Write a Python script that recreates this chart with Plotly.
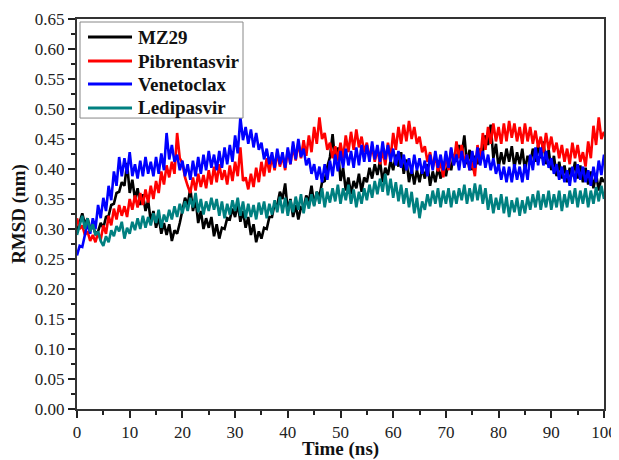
import numpy as np
import plotly.graph_objects as go

# Time axis (ns), sampled every 0.5 ns
time_ns = np.arange(0, 100.5, 0.5)

series_names = ["MZ29", "Pibrentasvir", "Venetoclax", "Ledipasvir"]

mz29 = [
    0.296, 0.312, 0.326, 0.308, 0.318, 0.300, 0.306, 0.292, 0.296, 0.310,
    0.302, 0.320, 0.322, 0.340, 0.342, 0.360, 0.362, 0.378, 0.372, 0.410,
    0.360, 0.382, 0.350, 0.368, 0.340, 0.358, 0.330, 0.348, 0.312, 0.330,
    0.302, 0.320, 0.292, 0.310, 0.290, 0.308, 0.280, 0.298, 0.292, 0.310,
    0.330, 0.352, 0.340, 0.368, 0.330, 0.350, 0.310, 0.330, 0.300, 0.318,
    0.302, 0.320, 0.288, 0.308, 0.284, 0.302, 0.300, 0.318, 0.316, 0.334,
    0.320, 0.342, 0.312, 0.330, 0.302, 0.320, 0.290, 0.308, 0.278, 0.296,
    0.284, 0.302, 0.300, 0.320, 0.320, 0.342, 0.340, 0.362, 0.350, 0.376,
    0.330, 0.350, 0.320, 0.340, 0.316, 0.336, 0.334, 0.356, 0.346, 0.372,
    0.340, 0.362, 0.354, 0.378, 0.380, 0.404, 0.420, 0.458, 0.410, 0.436,
    0.380, 0.402, 0.364, 0.386, 0.358, 0.380, 0.368, 0.392, 0.362, 0.386,
    0.378, 0.402, 0.384, 0.408, 0.390, 0.414, 0.378, 0.402, 0.390, 0.414,
    0.398, 0.424, 0.404, 0.428, 0.392, 0.416, 0.378, 0.402, 0.374, 0.398,
    0.378, 0.402, 0.384, 0.408, 0.372, 0.396, 0.378, 0.402, 0.384, 0.408,
    0.388, 0.412, 0.398, 0.424, 0.412, 0.440, 0.424, 0.456, 0.408, 0.432,
    0.398, 0.422, 0.408, 0.434, 0.428, 0.456, 0.440, 0.474, 0.418, 0.442,
    0.402, 0.428, 0.408, 0.434, 0.412, 0.438, 0.402, 0.428, 0.408, 0.434,
    0.398, 0.422, 0.408, 0.434, 0.412, 0.440, 0.418, 0.446, 0.408, 0.432,
    0.398, 0.422, 0.388, 0.412, 0.384, 0.406, 0.378, 0.402, 0.388, 0.412,
    0.384, 0.406, 0.378, 0.402, 0.374, 0.396, 0.368, 0.392, 0.364, 0.386,
    0.378,
]

pibrentasvir = [
    0.318, 0.300, 0.306, 0.290, 0.296, 0.280, 0.290, 0.278, 0.294, 0.282,
    0.306, 0.292, 0.322, 0.306, 0.334, 0.316, 0.340, 0.322, 0.338, 0.320,
    0.350, 0.332, 0.356, 0.336, 0.360, 0.340, 0.366, 0.344, 0.372, 0.350,
    0.380, 0.360, 0.396, 0.374, 0.406, 0.386, 0.412, 0.392, 0.460, 0.418,
    0.410, 0.386, 0.372, 0.360, 0.386, 0.364, 0.392, 0.370, 0.390, 0.368,
    0.398, 0.374, 0.404, 0.378, 0.408, 0.382, 0.398, 0.374, 0.406, 0.380,
    0.412, 0.388, 0.436, 0.380, 0.386, 0.366, 0.392, 0.370, 0.402, 0.378,
    0.412, 0.388, 0.418, 0.394, 0.422, 0.398, 0.428, 0.404, 0.422, 0.398,
    0.432, 0.408, 0.438, 0.414, 0.444, 0.418, 0.448, 0.422, 0.456, 0.428,
    0.470, 0.442, 0.486, 0.450, 0.460, 0.432, 0.444, 0.418, 0.438, 0.414,
    0.444, 0.418, 0.456, 0.428, 0.462, 0.432, 0.466, 0.436, 0.454, 0.428,
    0.444, 0.418, 0.438, 0.412, 0.434, 0.408, 0.432, 0.406, 0.444, 0.418,
    0.460, 0.432, 0.470, 0.442, 0.474, 0.446, 0.480, 0.450, 0.470, 0.442,
    0.454, 0.428, 0.438, 0.412, 0.428, 0.402, 0.422, 0.396, 0.412, 0.386,
    0.424, 0.398, 0.434, 0.408, 0.446, 0.418, 0.440, 0.412, 0.424, 0.398,
    0.412, 0.388, 0.440, 0.412, 0.460, 0.432, 0.470, 0.442, 0.476, 0.446,
    0.470, 0.442, 0.476, 0.446, 0.480, 0.452, 0.476, 0.446, 0.470, 0.442,
    0.476, 0.446, 0.470, 0.442, 0.464, 0.436, 0.454, 0.428, 0.460, 0.432,
    0.454, 0.428, 0.444, 0.418, 0.440, 0.412, 0.434, 0.408, 0.444, 0.418,
    0.440, 0.412, 0.428, 0.404, 0.446, 0.418, 0.472, 0.440, 0.486, 0.450,
    0.462,
]

venetoclax = [
    0.256, 0.272, 0.270, 0.290, 0.310, 0.292, 0.318, 0.300, 0.340, 0.318,
    0.352, 0.330, 0.372, 0.348, 0.396, 0.372, 0.420, 0.388, 0.418, 0.392,
    0.428, 0.388, 0.408, 0.384, 0.414, 0.388, 0.420, 0.392, 0.412, 0.388,
    0.420, 0.392, 0.426, 0.398, 0.460, 0.416, 0.440, 0.412, 0.424, 0.398,
    0.414, 0.388, 0.408, 0.382, 0.414, 0.388, 0.420, 0.392, 0.424, 0.398,
    0.430, 0.402, 0.424, 0.398, 0.430, 0.402, 0.436, 0.408, 0.440, 0.412,
    0.456, 0.426, 0.486, 0.448, 0.470, 0.442, 0.466, 0.436, 0.460, 0.432,
    0.444, 0.416, 0.434, 0.408, 0.428, 0.402, 0.434, 0.408, 0.428, 0.402,
    0.436, 0.408, 0.446, 0.416, 0.450, 0.420, 0.434, 0.406, 0.418, 0.392,
    0.408, 0.382, 0.404, 0.378, 0.408, 0.382, 0.414, 0.388, 0.424, 0.396,
    0.430, 0.402, 0.434, 0.406, 0.430, 0.402, 0.436, 0.406, 0.440, 0.412,
    0.440, 0.412, 0.446, 0.416, 0.440, 0.412, 0.446, 0.416, 0.440, 0.412,
    0.434, 0.406, 0.430, 0.402, 0.424, 0.398, 0.418, 0.392, 0.424, 0.398,
    0.418, 0.392, 0.414, 0.388, 0.424, 0.398, 0.430, 0.402, 0.424, 0.398,
    0.430, 0.402, 0.436, 0.406, 0.424, 0.398, 0.430, 0.402, 0.424, 0.398,
    0.430, 0.402, 0.436, 0.406, 0.430, 0.402, 0.424, 0.398, 0.418, 0.392,
    0.408, 0.382, 0.404, 0.378, 0.404, 0.378, 0.408, 0.382, 0.404, 0.378,
    0.408, 0.382, 0.424, 0.398, 0.436, 0.406, 0.436, 0.406, 0.430, 0.402,
    0.418, 0.392, 0.408, 0.382, 0.404, 0.378, 0.398, 0.372, 0.404, 0.378,
    0.408, 0.382, 0.404, 0.378, 0.398, 0.372, 0.404, 0.378, 0.414, 0.390,
    0.424,
]

ledipasvir = [
    0.290, 0.305, 0.322, 0.300, 0.318, 0.296, 0.308, 0.290, 0.296, 0.280,
    0.272, 0.288, 0.278, 0.298, 0.288, 0.305, 0.296, 0.312, 0.284, 0.302,
    0.292, 0.312, 0.298, 0.318, 0.300, 0.322, 0.302, 0.320, 0.306, 0.326,
    0.310, 0.332, 0.302, 0.324, 0.312, 0.332, 0.316, 0.338, 0.320, 0.342,
    0.326, 0.346, 0.330, 0.352, 0.336, 0.360, 0.328, 0.350, 0.324, 0.346,
    0.330, 0.352, 0.332, 0.350, 0.322, 0.346, 0.318, 0.342, 0.324, 0.348,
    0.330, 0.352, 0.322, 0.346, 0.318, 0.342, 0.320, 0.340, 0.316, 0.344,
    0.324, 0.346, 0.318, 0.342, 0.324, 0.348, 0.328, 0.354, 0.326, 0.352,
    0.322, 0.348, 0.328, 0.354, 0.332, 0.358, 0.326, 0.352, 0.334, 0.358,
    0.338, 0.362, 0.342, 0.368, 0.336, 0.362, 0.344, 0.368, 0.346, 0.374,
    0.342, 0.368, 0.348, 0.374, 0.342, 0.366, 0.336, 0.362, 0.342, 0.368,
    0.348, 0.374, 0.352, 0.380, 0.358, 0.384, 0.362, 0.392, 0.356, 0.384,
    0.352, 0.378, 0.346, 0.374, 0.342, 0.368, 0.336, 0.362, 0.326, 0.352,
    0.318, 0.346, 0.332, 0.358, 0.338, 0.364, 0.342, 0.368, 0.336, 0.364,
    0.342, 0.368, 0.336, 0.364, 0.342, 0.368, 0.348, 0.374, 0.342, 0.368,
    0.346, 0.376, 0.348, 0.374, 0.342, 0.368, 0.332, 0.358, 0.326, 0.352,
    0.332, 0.358, 0.326, 0.354, 0.320, 0.348, 0.328, 0.352, 0.322, 0.348,
    0.326, 0.354, 0.332, 0.358, 0.336, 0.364, 0.332, 0.358, 0.336, 0.364,
    0.332, 0.358, 0.336, 0.364, 0.330, 0.358, 0.336, 0.364, 0.342, 0.368,
    0.336, 0.364, 0.342, 0.368, 0.336, 0.364, 0.342, 0.370, 0.346, 0.372,
    0.350,
]

colors = ["#000000", "#ff0000", "#0000ff", "#008080"]
all_series = [mz29, pibrentasvir, venetoclax, ledipasvir]

x_tick_vals = [0, 10, 20, 30, 40, 50, 60, 70, 80, 90, 100]
y_tick_vals = [round(0.05 * i, 2) for i in range(14)]

fig = go.Figure()
for name, vals, col in zip(series_names, all_series, colors):
    fig.add_trace(go.Scatter(
        x=time_ns, y=vals, mode="lines", name=name,
        line=dict(color=col, width=2.6), showlegend=False,
    ))

serif = "Liberation Serif, Times New Roman, serif"
axis_font = dict(family=serif, size=17, color="#222")
title_font = dict(family=serif, size=19, color="#111")

# Legend drawn as a boxed key in the top-left corner of the plot area
leg_x0, leg_x1, leg_y0, leg_y1 = 0.0057, 0.315, 0.746, 0.9923
row_y = [0.9538, 0.8923, 0.8333, 0.7718]
fig.add_shape(type="rect", xref="paper", yref="paper",
              x0=leg_x0, x1=leg_x1, y0=leg_y0, y1=leg_y1,
              line=dict(color="#888", width=1), fillcolor="white", layer="above")
for name, col, ry in zip(series_names, colors, row_y):
    fig.add_shape(type="line", xref="paper", yref="paper",
                  x0=0.0209, x1=0.1044, y0=ry, y1=ry,
                  line=dict(color=col, width=3), layer="above")
    fig.add_annotation(xref="paper", yref="paper", x=0.1120, y=ry,
                       xanchor="left", yanchor="middle", showarrow=False,
                       text="<b>%s</b>" % name,
                       font=dict(family=serif, size=19, color="#111"))

fig.update_layout(
    width=611, height=452,
    margin=dict(l=69, r=15, t=11, b=51),
    paper_bgcolor="white", plot_bgcolor="white",
    showlegend=False,
    xaxis=dict(
        range=[0, 100], tickvals=x_tick_vals, ticks="outside", ticklen=7, tickwidth=2,
        tickcolor="#222", showline=True, linewidth=2, linecolor="#333", mirror=True,
        showgrid=False, zeroline=False, tickfont=axis_font, automargin=False,
        minor=dict(dtick=5, ticks="outside", ticklen=4, tickwidth=2, tickcolor="#222"),
        title=dict(text="<b>Time (ns)</b>", font=title_font, standoff=8),
    ),
    yaxis=dict(
        range=[0, 0.65], tickvals=y_tick_vals, tickformat=".2f", ticks="outside",
        ticklen=7, tickwidth=2, tickcolor="#222", showline=True, linewidth=2,
        linecolor="#333", mirror=True, showgrid=False, zeroline=False, tickfont=axis_font,
        automargin=False,
        minor=dict(dtick=0.025, ticks="outside", ticklen=4, tickwidth=2, tickcolor="#222"),
        title=dict(text="<b>RMSD (nm)</b>", font=title_font, standoff=6),
    ),
)

fig.write_html("out.html")
